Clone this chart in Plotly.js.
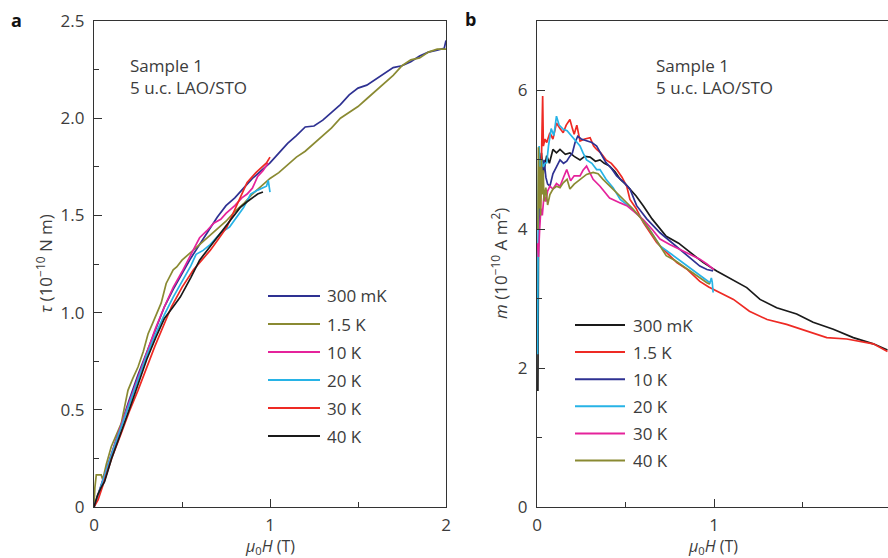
<!DOCTYPE html>
<html><head><meta charset="utf-8">
<script src="https://cdn.plot.ly/plotly-3.0.1.min.js"></script>
<style>html,body{margin:0;padding:0;background:#fff}#chart{width:888px;height:558px}</style>
</head><body><div id="chart"></div>
<script>
// ---------- Panel a: torque tau (1e-10 N m) vs mu0H (T) ----------
const aNames = ['300 mK','1.5 K','10 K','20 K','30 K','40 K'];
const aColors = ['#2e3192','#8a8a32','#e5239b','#27b3e6','#ee2a24','#1a1a1a'];
const a300x = [0,0.05,0.1,0.15,0.2,0.25,0.3,0.35,0.4,0.45,0.5,0.55,0.6,0.65,0.7,0.75,0.8,0.85,0.9,0.95,1.0,1.05,1.1,1.15,1.2,1.25,1.3,1.35,1.4,1.45,1.5,1.55,1.6,1.65,1.7,1.75,1.8,1.85,1.9,1.95,1.99,2.0];
const a300y = [0,0.14,0.28,0.41,0.55,0.68,0.80,0.92,1.03,1.12,1.2,1.28,1.35,1.42,1.49,1.55,1.59,1.64,1.69,1.73,1.77,1.82,1.87,1.91,1.955,1.96,1.99,2.03,2.07,2.12,2.155,2.17,2.2,2.23,2.26,2.27,2.29,2.32,2.34,2.35,2.36,2.4];
const a15x = [0,0.005,0.013,0.041,0.05,0.07,0.098,0.13,0.155,0.174,0.193,0.22,0.25,0.28,0.307,0.34,0.382,0.41,0.45,0.47,0.5,0.55,0.6,0.65,0.7,0.75,0.8,0.85,0.9,0.95,1.0,1.05,1.1,1.15,1.2,1.25,1.3,1.35,1.4,1.45,1.5,1.55,1.6,1.65,1.7,1.75,1.8,1.85,1.9,1.95,2.0];
const a15y = [0,0.1,0.165,0.165,0.14,0.22,0.31,0.38,0.43,0.516,0.60,0.66,0.72,0.8,0.89,0.96,1.05,1.15,1.22,1.235,1.27,1.31,1.35,1.39,1.43,1.47,1.52,1.56,1.61,1.65,1.69,1.72,1.76,1.8,1.83,1.87,1.91,1.95,2.0,2.03,2.06,2.1,2.14,2.18,2.22,2.27,2.3,2.31,2.34,2.355,2.355];
const a10x = [0,0.05,0.1,0.15,0.2,0.25,0.3,0.35,0.4,0.45,0.5,0.55,0.6,0.64,0.68,0.72,0.75,0.8,0.84,0.87,0.9,0.93,0.96,0.99];
const a10y = [0,0.13,0.27,0.41,0.54,0.67,0.80,0.92,1.03,1.13,1.21,1.30,1.385,1.42,1.46,1.48,1.51,1.55,1.59,1.61,1.64,1.70,1.73,1.77];
const a20x = [0,0.05,0.1,0.15,0.2,0.25,0.3,0.35,0.4,0.45,0.5,0.55,0.58,0.62,0.66,0.72,0.77,0.81,0.85,0.89,0.93,0.98,0.99,1.0];
const a20y = [0,0.14,0.27,0.40,0.53,0.66,0.78,0.89,0.99,1.08,1.16,1.24,1.30,1.32,1.35,1.41,1.44,1.49,1.54,1.61,1.63,1.65,1.68,1.62];
const a30x = [0,0.023,0.05,0.1,0.155,0.2,0.25,0.3,0.345,0.44,0.5,0.565,0.62,0.66,0.7,0.755,0.8,0.87,0.92,0.98,1.0];
const a30y = [0,0.036,0.11,0.25,0.38,0.49,0.60,0.72,0.825,1.03,1.13,1.22,1.28,1.32,1.37,1.44,1.53,1.67,1.72,1.77,1.8];
const a40x = [0,0.02,0.04,0.06,0.1,0.15,0.2,0.25,0.3,0.35,0.4,0.45,0.49,0.55,0.6,0.66,0.72,0.78,0.83,0.87,0.905,0.93,0.96];
const a40y = [0,0.06,0.1,0.13,0.25,0.37,0.5,0.63,0.76,0.87,0.97,1.03,1.08,1.18,1.27,1.34,1.41,1.48,1.54,1.57,1.595,1.61,1.62];

// ---------- Panel b: magnetic moment m (1e-10 A m^2) vs mu0H (T) ----------
const bNames = ['300 mK','1.5 K','10 K','20 K','30 K','40 K'];
const bColors = ['#1a1a1a','#ee2a24','#2e3192','#27b3e6','#e5239b','#8a8a32'];
const b300x = [0.005,0.008,0.015,0.025,0.035,0.045,0.055,0.07,0.09,0.11,0.13,0.16,0.186,0.21,0.243,0.27,0.3,0.33,0.356,0.38,0.41,0.44,0.47,0.5,0.525,0.56,0.6,0.65,0.73,0.8,0.864,0.94,1.015,1.11,1.185,1.26,1.354,1.467,1.56,1.674,1.787,1.9,1.98];
const b300y = [1.67,3.6,4.9,5.1,4.8,4.95,5.06,4.95,5.15,5.1,5.15,5.08,5.1,5.05,5.0,5.05,5.04,4.98,5.0,4.95,4.91,4.83,4.72,4.65,4.58,4.48,4.34,4.15,3.9,3.8,3.67,3.52,3.4,3.26,3.16,2.99,2.87,2.78,2.66,2.56,2.44,2.35,2.26];
const b15x = [0.02,0.025,0.03,0.032,0.036,0.045,0.055,0.073,0.09,0.11,0.13,0.148,0.165,0.186,0.2,0.21,0.225,0.243,0.27,0.3,0.32,0.337,0.36,0.39,0.42,0.45,0.48,0.507,0.525,0.56,0.6,0.64,0.676,0.73,0.79,0.85,0.92,0.97,1.015,1.06,1.11,1.2,1.3,1.41,1.524,1.637,1.75,1.825,1.9,1.98];
const b15y = [4.3,5.0,5.3,5.92,5.2,5.3,5.25,5.39,5.3,5.53,5.45,5.39,5.5,5.58,5.45,5.37,5.5,5.27,5.3,5.32,5.2,5.15,5.1,5.0,4.95,4.86,4.75,4.62,4.43,4.3,4.1,3.95,3.81,3.67,3.52,3.42,3.25,3.17,3.11,3.05,2.99,2.82,2.70,2.63,2.54,2.44,2.42,2.39,2.35,2.24];
const b10x = [0.01,0.02,0.03,0.04,0.05,0.06,0.073,0.09,0.11,0.13,0.15,0.168,0.185,0.2,0.215,0.23,0.25,0.28,0.31,0.337,0.36,0.39,0.42,0.45,0.49,0.525,0.563,0.62,0.695,0.75,0.81,0.87,0.92,0.96,0.995];
const b10y = [4.0,5.0,4.82,5.0,4.75,4.65,4.62,4.8,4.9,5.0,4.95,4.98,5.05,5.1,5.25,5.34,5.3,5.27,5.25,5.2,5.1,4.96,4.88,4.77,4.68,4.58,4.34,4.15,3.95,3.83,3.71,3.58,3.47,3.42,3.4];
const b20x = [0.003,0.005,0.008,0.012,0.017,0.025,0.035,0.045,0.055,0.065,0.08,0.095,0.11,0.125,0.148,0.17,0.186,0.21,0.243,0.26,0.28,0.31,0.337,0.356,0.39,0.43,0.47,0.52,0.58,0.64,0.695,0.76,0.825,0.9,0.977,0.985,0.99,0.995];
const b20y = [2.2,3.5,4.5,5.2,4.8,5.0,4.9,4.95,4.96,5.2,5.45,5.35,5.63,5.5,5.44,5.42,5.37,5.3,5.2,5.1,5.0,4.95,4.86,4.86,4.72,4.6,4.43,4.33,4.19,3.98,3.76,3.64,3.52,3.38,3.23,3.3,3.24,3.09];
const b30x = [0.003,0.008,0.015,0.022,0.03,0.04,0.05,0.06,0.073,0.09,0.11,0.13,0.15,0.168,0.19,0.21,0.243,0.26,0.28,0.3,0.317,0.356,0.41,0.47,0.507,0.55,0.6,0.65,0.695,0.75,0.81,0.87,0.92,0.96,1.0];
const b30y = [3.8,3.6,4.0,4.3,4.2,4.5,4.4,4.55,4.62,4.58,4.66,4.62,4.75,4.86,4.7,4.77,4.77,4.85,4.91,4.8,4.72,4.62,4.45,4.38,4.34,4.25,4.14,4.0,3.86,3.78,3.71,3.64,3.57,3.5,3.42];
const b40x = [0.005,0.008,0.012,0.016,0.02,0.025,0.03,0.035,0.04,0.05,0.06,0.073,0.09,0.11,0.13,0.148,0.17,0.186,0.21,0.243,0.26,0.28,0.317,0.345,0.373,0.43,0.486,0.54,0.6,0.64,0.69,0.73,0.78,0.825,0.88,0.93,0.96,0.977];
const b40y = [4.0,5.18,4.3,4.9,4.2,5.0,4.5,4.85,4.4,4.6,4.35,4.5,4.58,4.62,4.6,4.67,4.72,4.58,4.65,4.72,4.76,4.79,4.82,4.8,4.72,4.58,4.43,4.3,4.12,3.98,3.78,3.62,3.55,3.47,3.38,3.28,3.23,3.21];

// tick labels
const aXTickVals = [0,1,2], aXTickText = ['0','1','2'];
const aYTickVals = [0,0.5,1,1.5,2,2.5], aYTickText = ['0','0.5','1.0','1.5','2.0','2.5'];
const bXTickVals = [0,1], bXTickText = ['0','1'];
const bYTickVals = [0,2,4,6], bYTickText = ['0','2','4','6'];

const FONT = 'Open Sans, Noto Sans, sans-serif';
const TXT = '#3c3c3c';
const FS = 17;
const W = 888, H = 558, MT = 21, MB = 51;
const px = v => v / W;
const py = v => (H - MB - v) / (H - MT - MB);

const aX = [a300x,a15x,a10x,a20x,a30x,a40x], aY = [a300y,a15y,a10y,a20y,a30y,a40y];
const bX = [b300x,b15x,b10x,b20x,b30x,b40x], bY = [b300y,b15y,b10y,b20y,b30y,b40y];
const traces = [];
aNames.forEach((n,i) => traces.push({x:aX[i], y:aY[i], name:n, type:'scatter', mode:'lines',
  line:{color:aColors[i], width:1.7}, xaxis:'x', yaxis:'y', showlegend:false, hoverinfo:'skip'}));
bNames.forEach((n,i) => traces.push({x:bX[i], y:bY[i], name:n, type:'scatter', mode:'lines',
  line:{color:bColors[i], width:1.7}, xaxis:'x2', yaxis:'y2', showlegend:false, hoverinfo:'skip'}));

const axCommon = {showgrid:false, zeroline:false, ticks:'inside', ticklen:8, tickcolor:'#333',
  linecolor:'#333', linewidth:1.2, showline:true, tickfont:{family:FONT, size:FS, color:TXT},
  tickmode:'array', fixedrange:true};

const shapes = [], annotations = [];
// legends
const legA = {x0:268, x1:320, tx:325, y0:296, dy:28};
const legB = {x0:575, x1:625, tx:631, y0:325, dy:27.1};
function addLegend(names, colors, L){
  names.forEach((n,i)=>{
    const yy = L.y0 + i*L.dy;
    shapes.push({type:'line', xref:'paper', yref:'paper', x0:px(L.x0), x1:px(L.x1), y0:py(yy), y1:py(yy),
      line:{color:colors[i], width:2}});
    annotations.push({xref:'paper', yref:'paper', x:px(L.tx), y:py(yy), text:n, showarrow:false,
      xanchor:'left', yanchor:'middle', font:{family:FONT, size:FS, color:TXT}});
  });
}
addLegend(aNames, aColors, legA);
addLegend(bNames, bColors, legB);

function txt(x, y, t, opts){
  annotations.push(Object.assign({xref:'paper', yref:'paper', x:px(x), y:py(y), text:t, showarrow:false,
    xanchor:'left', yanchor:'middle', font:{family:FONT, size:FS, color:TXT}}, opts||{}));
}
txt(128, 65, 'Sample 1');
txt(128, 88, '5 u.c. LAO/STO');
txt(654, 65, 'Sample 1');
txt(654, 88, '5 u.c. LAO/STO');
txt(16, 20, '<b>a</b>', {xanchor:'center', font:{family:FONT, size:18, color:'#111'}});
txt(471, 19, '<b>b</b>', {xanchor:'center', font:{family:FONT, size:18, color:'#111'}});
txt(270, 546, '<i>μ</i><sub>0</sub><i>H</i> (T)', {xanchor:'center', font:{family:FONT, size:16, color:TXT}});
txt(713, 546, '<i>μ</i><sub>0</sub><i>H</i> (T)', {xanchor:'center', font:{family:FONT, size:16, color:TXT}});
txt(44, 264, '<i>τ</i> (10<sup>−10</sup> N m)', {xanchor:'center', textangle:-90});
txt(499, 264, '<i>m</i> (10<sup>−10</sup> A m<sup>2</sup>)', {xanchor:'center', textangle:-90});

const layout = {
  width:W, height:H, margin:{l:0, r:0, t:MT, b:MB, pad:0},
  paper_bgcolor:'#fff', plot_bgcolor:'#fff', showlegend:false,
  xaxis: Object.assign({}, axCommon, {domain:[px(94), px(446)], range:[0,2], tickvals:aXTickVals, ticktext:aXTickText,
    mirror:true, anchor:'y', ticklabelstandoff:2, minor:{tickvals:[0.5,1.5], ticks:'inside', ticklen:5, tickcolor:'#333'}}),
  yaxis: Object.assign({}, axCommon, {domain:[0,1], range:[0,2.5], tickvals:aYTickVals, ticktext:aYTickText,
    mirror:true, anchor:'x', ticklabelstandoff:5, minor:{tickvals:[0.25,0.75,1.25,1.75,2.25], ticks:'inside', ticklen:5, tickcolor:'#333'}}),
  xaxis2: Object.assign({}, axCommon, {domain:[px(537), 1], range:[0,351/177], tickvals:bXTickVals, ticktext:bXTickText,
    mirror:true, anchor:'y2', ticklabelstandoff:2, minor:{tickvals:[0.5,1.5], ticks:'inside', ticklen:5, tickcolor:'#333'}}),
  yaxis2: Object.assign({}, axCommon, {domain:[0,1], range:[0,7], tickvals:bYTickVals, ticktext:bYTickText,
    mirror:false, anchor:'x2', ticklabelstandoff:5, minor:{tickvals:[1,3,5], ticks:'inside', ticklen:5, tickcolor:'#333'}}),
  shapes:shapes, annotations:annotations
};
Plotly.newPlot('chart', traces, layout, {staticPlot:true, displayModeBar:false});
</script>
</body></html>
